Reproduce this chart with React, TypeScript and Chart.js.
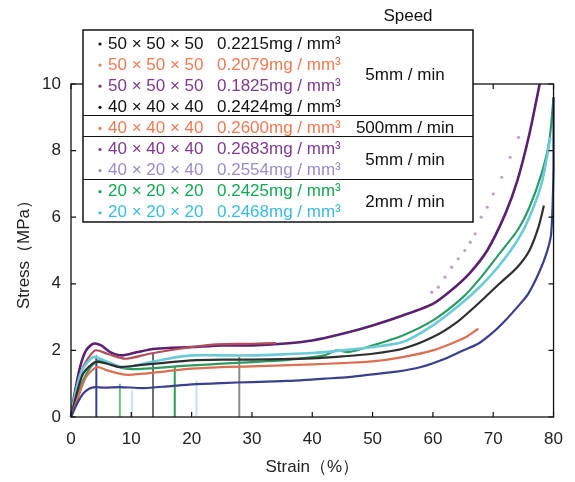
import React, { useEffect, useRef } from "react";
import { Chart, registerables } from "chart.js";

Chart.register(...registerables);

const FONT = "'Liberation Sans', Arial, Helvetica, sans-serif";

// axis ranges
const X_MIN = 0;
const X_MAX = 80;
const X_STEP = 10;
const Y_MIN = 0;
const Y_MAX = 10;
const Y_STEP = 2;

// ---- curves (strain %, stress MPa) ----
const purpleStrain = [0, 0.5, 1.5, 2.5, 3.7, 5, 6.5, 8.5, 11, 14, 20, 25, 30, 35, 40, 45, 50, 55, 60, 63, 66, 69, 72, 74, 76, 77.7];
const purpleStress = [0, 0.6, 1.5, 2.0, 2.2, 2.15, 1.95, 1.85, 1.95, 2.05, 2.1, 2.15, 2.15, 2.2, 2.3, 2.5, 2.75, 3.05, 3.4, 3.8, 4.3, 5.0, 6.1, 7.1, 8.5, 10.0];

const redStrain = [0, 0.7, 2, 4, 6, 9, 13, 18, 24, 30, 34];
const redStress = [0, 0.6, 1.5, 2.0, 1.9, 1.75, 1.9, 2.05, 2.18, 2.2, 2.22];

const greenStrain = [0, 0.8, 2, 3.5, 4.8, 6.5, 9, 12, 16, 20, 25, 30, 35, 40, 42, 44, 46, 50, 55, 60, 65, 68, 71, 74, 76, 78, 79.3, 80];
const greenStress = [0, 0.5, 1.1, 1.55, 1.7, 1.6, 1.45, 1.45, 1.5, 1.55, 1.6, 1.65, 1.7, 1.8, 1.85, 2.0, 1.95, 2.15, 2.45, 2.9, 3.6, 4.2, 4.9, 5.6, 6.3, 7.3, 8.3, 9.6];

const cyanStrain = [0, 0.6, 1.8, 3.7, 5.5, 7.5, 9.2, 12, 16, 20, 25, 30, 35, 40, 45, 50, 55, 60, 65, 68, 71, 74, 76, 78, 79.5];
const cyanStress = [0, 0.6, 1.4, 1.8, 1.7, 1.55, 1.5, 1.6, 1.75, 1.85, 1.85, 1.85, 1.88, 1.92, 2.0, 2.1, 2.25, 2.75, 3.45, 3.95, 4.55, 5.3, 6.0, 7.0, 8.4];

const blackStrain = [0, 0.8, 2, 4, 6, 8, 11, 15, 20, 25, 30, 35, 40, 45, 50, 55, 60, 64, 67.5, 71, 74, 76, 77.5, 78.4];
const blackStress = [0, 0.6, 1.3, 1.65, 1.6, 1.5, 1.55, 1.62, 1.7, 1.72, 1.72, 1.74, 1.76, 1.82, 1.9, 2.05, 2.4, 2.85, 3.4, 4.0, 4.5, 5.0, 5.7, 6.35];

const orangeStrain = [0, 1, 2.5, 4.3, 6, 9, 12, 16, 20, 25, 30, 35, 40, 45, 50, 55, 60, 63, 65.5, 67.5];
const orangeStress = [0, 0.5, 1.2, 1.5, 1.4, 1.27, 1.3, 1.38, 1.45, 1.5, 1.52, 1.55, 1.58, 1.62, 1.67, 1.8, 2.0, 2.2, 2.4, 2.65];

const navyStrain = [0, 1, 2, 3, 4, 5.4, 8, 12, 16, 20, 25, 30, 35, 38, 42, 46, 50, 54, 58, 62, 65, 67.5, 70, 72, 74, 75.8, 77.5, 78.8, 79.6, 80, 80];
const navyStress = [0, 0.4, 0.7, 0.85, 0.9, 0.88, 0.9, 0.87, 0.92, 0.98, 1.02, 1.05, 1.08, 1.1, 1.15, 1.2, 1.28, 1.36, 1.5, 1.75, 2.0, 2.2, 2.55, 2.9, 3.3, 3.7, 4.3, 4.9, 5.5, 7.5, 9.6];

// light purple dotted tail
const dotStrain = [59.8, 60.9, 62.0, 63.1, 64.2, 65.3, 66.2, 67.0, 68.0, 69.0, 70.0, 71.4, 72.8, 74.2];
const dotStress = [3.75, 3.9, 4.2, 4.5, 4.75, 5.0, 5.25, 5.5, 6.0, 6.3, 6.7, 7.2, 7.8, 8.4];

// vertical drops (strain, top stress)
const dropStrain = [4.2, 8.1, 10.1, 13.6, 17.2, 20.8, 27.9];
const dropStress = [1.85, 1.0, 0.8, 1.9, 1.5, 1.1, 1.8];
const dropColors = ["#3b3f8f", "#6cc07a", "#c6e4ee", "#6e6e6e", "#2f9e4f", "#c8e0f0", "#8a8a8a"];

// ---- legend ----
const legendSizes = [
  "50 × 50 × 50", "50 × 50 × 50", "50 × 50 × 50", "40 × 40 × 40", "40 × 40 × 40",
  "40 × 40 × 40", "40 × 20 × 40", "20 × 20 × 20", "20 × 20 × 20",
];
const legendDensities = [
  "0.2215mg / mm³", "0.2079mg / mm³", "0.1825mg / mm³", "0.2424mg / mm³", "0.2600mg / mm³",
  "0.2683mg / mm³", "0.2554mg / mm³", "0.2425mg / mm³", "0.2468mg / mm³",
];
const legendColors = ["#111111", "#f07a52", "#7d3a8e", "#111111", "#f07a52", "#7d3a8e", "#9c8cc8", "#14a852", "#3cbbe0"];
const speedLabels = ["5mm / min", "500mm / min", "5mm / min", "2mm / min"];
const speedRowCounts = [4, 1, 2, 2];
const speedTitle = "Speed";
const xTitle = "Strain（%）";
const yTitle = "Stress（MPa）";

const zip = (xs: number[], ys: number[]) => xs.map((x, i) => ({ x, y: ys[i] }));

const lineDs = (data: { x: number; y: number }[], color: string, width = 2.2) => ({
  type: "line" as const,
  data,
  borderColor: color,
  backgroundColor: color,
  borderWidth: width,
  pointRadius: 0,
  tension: 0.25,
  fill: false,
  clip: 4,
});

const framePlugin = {
  id: "frameAndLegend",
  afterDraw(chart: any) {
    const ctx = chart.ctx as CanvasRenderingContext2D;
    const { left, right, top, bottom } = chart.chartArea;
    const xs = chart.scales.x;
    const ys = chart.scales.y;
    ctx.save();
    // frame
    ctx.strokeStyle = "#111";
    ctx.lineWidth = 1.3;
    ctx.strokeRect(left, top, right - left, bottom - top);
    // inward ticks on all sides
    ctx.lineWidth = 1.2;
    const tl = 5;
    ctx.beginPath();
    xs.ticks.forEach((t: any) => {
      const px = xs.getPixelForValue(t.value);
      ctx.moveTo(px, bottom);
      ctx.lineTo(px, bottom - tl);
      ctx.moveTo(px, top);
      ctx.lineTo(px, top + tl);
    });
    ys.ticks.forEach((t: any) => {
      const py = ys.getPixelForValue(t.value);
      ctx.moveTo(left, py);
      ctx.lineTo(left + tl, py);
      ctx.moveTo(right, py);
      ctx.lineTo(right - tl, py);
    });
    ctx.stroke();

    // legend box
    const bl = 83, br = 473, bt = 30, bb = 222;
    ctx.fillStyle = "#ffffff";
    ctx.fillRect(bl, bt, br - bl, bb - bt);
    const rowY = (i: number) => bt + 13 + i * 21.1;
    // separators
    ctx.strokeStyle = "#111";
    ctx.lineWidth = 1.2;
    let idx = 0;
    ctx.font = `17px ${FONT}`;
    ctx.textBaseline = "middle";
    speedRowCounts.forEach((cnt, g) => {
      const first = idx;
      const last = idx + cnt - 1;
      const cy = (rowY(first) + rowY(last)) / 2;
      ctx.fillStyle = "#111";
      ctx.textAlign = "center";
      ctx.fillText(speedLabels[g], 405, cy + 1);
      if (g < speedRowCounts.length - 1) {
        const sy = Math.round((rowY(last) + rowY(last + 1)) / 2 - 1.5) + 0.5;
        ctx.beginPath();
        ctx.moveTo(bl, sy);
        ctx.lineTo(br, sy);
        ctx.stroke();
      }
      idx += cnt;
    });
    legendSizes.forEach((s, i) => {
      const y = rowY(i);
      ctx.fillStyle = legendColors[i];
      ctx.beginPath();
      ctx.arc(100, y + 1, 1.6, 0, Math.PI * 2);
      ctx.fill();
      ctx.textAlign = "left";
      ctx.fillText(s, 108, y + 1);
      ctx.fillText(legendDensities[i], 217, y + 1);
    });
    ctx.lineWidth = 1.5;
    ctx.strokeRect(bl, bt, br - bl, bb - bt);
    // Speed title
    ctx.fillStyle = "#111";
    ctx.textAlign = "center";
    ctx.fillText(speedTitle, 408, 16);
    ctx.restore();
  },
};

export default function App() {
  const ref = useRef<HTMLCanvasElement | null>(null);
  useEffect(() => {
    document.body.style.margin = "0";
    if (!ref.current) return;
    const datasets: any[] = [
      lineDs(zip(navyStrain, navyStress), "#3b3f8f"),
      lineDs(zip(orangeStrain, orangeStress), "#dc6e52"),
      lineDs(zip(blackStrain, blackStress), "#2f2f2f"),
      lineDs(zip(cyanStrain, cyanStress), "#6ccbd8", 2.6),
      lineDs(zip(greenStrain, greenStress), "#2e9c62"),
      lineDs(zip(redStrain, redStress), "#b24e5c"),
      lineDs(zip(purpleStrain, purpleStress), "#5a2170", 2.6),
      {
        type: "line",
        data: zip(dotStrain, dotStress),
        showLine: false,
        pointRadius: 1.6,
        pointBackgroundColor: "#bfa2c8",
        pointBorderWidth: 0,
      },
      ...dropStrain.map((s, i) => ({
        ...lineDs([{ x: s, y: dropStress[i] }, { x: s, y: 0 }], dropColors[i], 2),
        tension: 0,
      })),
    ];
    const tickFont = { family: FONT, size: 17 };
    const chart = new Chart(ref.current, {
      type: "line",
      data: { datasets },
      options: {
        animation: false,
        responsive: false,
        maintainAspectRatio: false,
        layout: { padding: { left: 0, right: 19, top: 84, bottom: 0 } },
        plugins: { legend: { display: false }, tooltip: { enabled: false } },
        scales: {
          x: {
            type: "linear",
            min: X_MIN,
            max: X_MAX,
            ticks: { stepSize: X_STEP, padding: 12, color: "#222", font: tickFont },
            grid: { display: false, drawTicks: false },
            border: { display: false },
            title: { display: true, text: xTitle, color: "#222", font: tickFont, padding: { top: 0, bottom: 4 } },
            afterFit: (s: any) => {
              s.height = 65;
            },
          },
          y: {
            type: "linear",
            min: Y_MIN,
            max: Y_MAX,
            ticks: { stepSize: Y_STEP, padding: 10, color: "#222", font: tickFont },
            grid: { display: false, drawTicks: false },
            border: { display: false },
            title: { display: true, text: yTitle, color: "#222", font: tickFont, padding: { top: 14, bottom: 0 } },
            afterFit: (s: any) => {
              s.width = 71;
            },
          },
        },
      } as any,
      plugins: [framePlugin],
    });
    return () => chart.destroy();
  }, []);
  return (
    <div style={{ width: 575, height: 482, background: "#fff" }}>
      <canvas ref={ref} width={575} height={482} />
    </div>
  );
}
